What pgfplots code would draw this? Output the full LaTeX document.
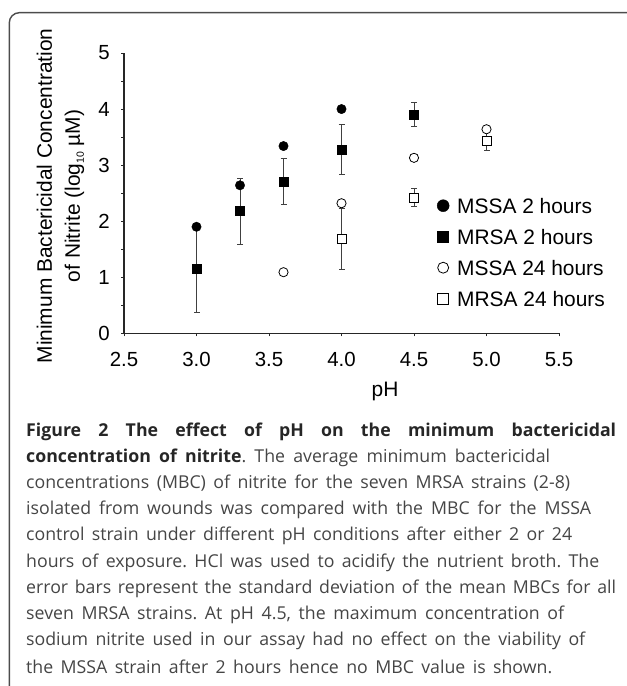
\documentclass[border=0pt]{standalone}
\usepackage{fontspec}
\setmainfont{Open Sans}
\newfontfamily\arial{Liberation Sans}
\usepackage{pgfplots}
\pgfplotsset{compat=1.18}
\usepackage{pgfplotstable}

\pgfplotstableread{
x y
3.0 1.90
3.3 2.64
3.6 3.34
4.0 4.00
}\mssatwo
\pgfplotstableread{
x y e
3.0 1.15 0.77
3.3 2.18 0.59
3.6 2.70 0.41
4.0 3.28 0.445
4.5 3.90 0.21
}\mrsatwo
\pgfplotstableread{
x y
3.6 1.09
4.0 2.32
4.5 3.13
5.0 3.64
}\mssatf
\pgfplotstableread{
x y e
4.0 1.68 0.55
4.5 2.42 0.165
5.0 3.43 0.17
}\mrsatf

\definecolor{captxt}{gray}{0.27}
\definecolor{capbold}{gray}{0.15}
\definecolor{framec}{gray}{0.3}
\newcommand{\capline}[3]{\node[anchor=base west, inner sep=0pt, font=\fontsize{17.8}{17.8}\selectfont, text=captxt] at (26bp,#1bp) {\frenchspacing\makebox[#2bp][s]{#3}};}

\begin{document}
\begin{tikzpicture}
\path[use as bounding box] (0,0) rectangle (627bp,686bp);
\draw[framec, line width=1.4bp, rounded corners=10bp] (9.3bp,-2bp) -- (9.3bp,673.3bp) -- (632bp,673.3bp);
\begin{axis}[
  at={(124bp,352.7bp)}, anchor=south west,
  scale only axis, width=435bp, height=280.3bp,
  xmin=2.5, xmax=5.5, ymin=0, ymax=5,
  axis x line=bottom, axis y line=left,
  axis line style={-, line width=1.2bp, black!85},
  xtick={2.5,3.0,3.5,4.0,4.5,5.0,5.5}, ytick={0,1,2,3,4,5},
  minor ytick={0.5,1.5,2.5,3.5,4.5},
  tick align=outside, major tick length=3bp, minor tick length=3bp,
  tick style={black!85, line width=0.9bp},
  /pgf/number format/assume math mode=true,
  tick label style={font=\arial\fontsize{20.5}{20.5}\selectfont, black},
  xticklabel style={inner sep=0pt, anchor=north, yshift=-16bp, /pgf/number format/.cd, fixed, fixed zerofill, precision=1},
  yticklabel style={inner sep=0pt, anchor=east, xshift=-11bp},
  xlabel={pH},
  xlabel style={at={(axis description cs:0.6,-0.209)}, anchor=center, font=\arial\fontsize{21}{21}\selectfont},
  ylabel={Minimum Bactericidal Concentration\\of Nitrite (log{\fontsize{10.5}{10.5}\selectfont\raisebox{-4bp}{10}} µM)},
  ylabel style={at={(axis description cs:-0.146,0.49)}, anchor=center, align=center, font=\arial\fontsize{21}{28}\selectfont},
  legend cell align=left,
  legend image code/.code={\draw[#1] plot coordinates {(0bp,0bp)};},
  legend style={draw=none, fill=none, at={(axis description cs:0.7195,0.4827)}, anchor=north west,
    inner sep=0pt, row sep=16bp,
    nodes={inner sep=0pt, text height=15bp, text depth=0pt, font=\arial\fontsize{21}{21}\selectfont},
    /tikz/every odd column/.append style={column sep=8bp}},
]
\addlegendimage{only marks, mark=*, mark size=6bp, black}
\addlegendentry{MSSA 2 hours}
\addlegendimage{only marks, mark=square*, mark size=5.5bp, black}
\addlegendentry{MRSA 2 hours}
\addlegendimage{only marks, mark=o, mark size=5.5bp, black, line width=0.8bp}
\addlegendentry{MSSA 24 hours}
\addlegendimage{only marks, mark=square, mark size=5.5bp, black, line width=0.8bp}
\addlegendentry{MRSA 24 hours}
% error bars first
\addplot[forget plot, draw=none, mark=none, error bars/.cd, y dir=both, y explicit,
  error bar style={draw=black!75, line width=0.9bp},
  error mark options={rotate=90, mark size=3bp, draw=black!75, line width=0.9bp}]
  table[x=x, y=y, y error=e] {\mrsatwo};
\addplot[forget plot, draw=none, mark=none, error bars/.cd, y dir=both, y explicit,
  error bar style={draw=black!75, line width=0.9bp},
  error mark options={rotate=90, mark size=3bp, draw=black!75, line width=0.9bp}]
  table[x=x, y=y, y error=e] {\mrsatf};
% marks
\addplot[forget plot, only marks, mark=square*, mark size=4.4bp, black] table[x=x, y=y] {\mrsatwo};
\addplot[forget plot, only marks, mark=square*, mark size=4.4bp, black, fill=white, line width=0.8bp] table[x=x, y=y] {\mrsatf};
\addplot[forget plot, only marks, mark=*, mark size=4.7bp, black] table[x=x, y=y] {\mssatwo};
\addplot[forget plot, only marks, mark=*, mark size=4.6bp, black, fill=white, line width=0.8bp] table[x=x, y=y] {\mssatf};
\end{axis}
\capline{249}{590}{\color{capbold}\bfseries Figure 2 The effect of pH on the minimum bactericidal}
\capline{223}{524}{{\color{capbold}\bfseries concentration of nitrite}. The average minimum bactericidal}
\capline{197}{544}{concentrations (MBC) of nitrite for the seven MRSA strains (2-8)}
\capline{171}{565}{isolated from wounds was compared with the MBC for the MSSA}
\capline{145}{546}{control strain under different pH conditions after either 2 or 24}
\capline{118}{573}{hours of exposure. HCl was used to acidify the nutrient broth. The}
\capline{92}{590}{error bars represent the standard deviation of the mean MBCs for all}
\capline{66}{538}{seven MRSA strains. At pH 4.5, the maximum concentration of}
\capline{40}{559}{sodium nitrite used in our assay had no effect on the viability of}
\capline{13}{526}{the MSSA strain after 2 hours hence no MBC value is shown.}
\end{tikzpicture}
\end{document}
